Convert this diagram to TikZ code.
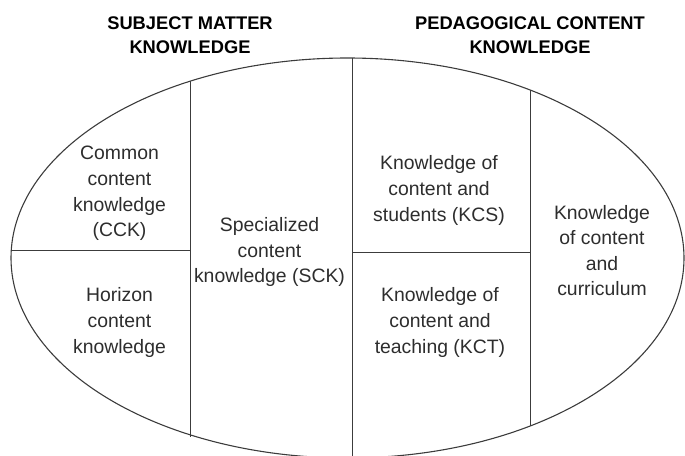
\documentclass[tikz,border=0pt]{standalone}
\usepackage{fontspec}
\setmainfont{Liberation Sans}
\definecolor{txt}{RGB}{45,45,45}
\definecolor{ln}{RGB}{60,60,60}
\begin{document}
\begin{tikzpicture}[x=1pt,y=-1pt,
  cell/.style={align=center,text=txt,font=\fontsize{19.4}{25.6}\selectfont,inner sep=0pt},
  head/.style={align=center,text=black,font=\bfseries\fontsize{18.3}{24}\selectfont,inner sep=0pt},
  part/.style={draw=ln,line width=0.9pt}]
\useasboundingbox (0,0) rectangle (685,455);
\clip (0,0) rectangle (685,455);
% headers
\node[head] (smk) at (190,35) {SUBJECT MATTER\\KNOWLEDGE};
\node[head] (pck) at (530,35) {PEDAGOGICAL CONTENT\\KNOWLEDGE};
% ellipse
\draw[ln,line width=1.1pt] (347.5,258) ellipse [x radius=336.5, y radius=200];
% partition coordinates
\coordinate (l1t) at (190,81);
\coordinate (l1b) at (190,437);
\coordinate (l2t) at (352,58);
\coordinate (l2b) at (352,460);
\coordinate (l3t) at (530,90);
\coordinate (l3b) at (530,426);
\coordinate (hl) at (11,250.5);
\coordinate (hlr) at (190,250.5);
\coordinate (hr) at (352,252.5);
\coordinate (hrr) at (530,252.5);
\draw[part] (l1t) -- (l1b);
\draw[part] (l2t) -- (l2b);
\draw[part] (l3t) -- (l3b);
\draw[part] (hl) -- (hlr);
\draw[part] (hr) -- (hrr);
% cell texts
\node[cell] (cck) at (119.5,193.5) {Common\\content\\knowledge\\(CCK)};
\node[cell] (hck) at (119.5,322.5) {Horizon\\content\\knowledge};
\node[cell] (sck) at (269.5,252) {Specialized\\content\\knowledge (SCK)};
\node[cell] (kcs) at (439,190.5) {Knowledge of\\content and\\students (KCS)};
\node[cell] (kct) at (440,322.5) {Knowledge of\\content and\\teaching (KCT)};
\node[cell] (kcc) at (602,250.5) {Knowledge\\of content\\and\\curriculum};
\end{tikzpicture}
\end{document}
